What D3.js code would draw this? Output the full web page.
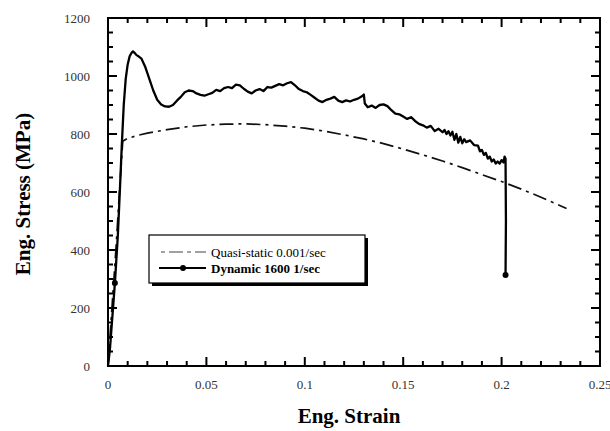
<!DOCTYPE html>
<html lang="en">
<head>
<meta charset="UTF-8"/>
<title>Stress strain</title>
<script src="https://d3js.org/d3.v7.min.js"></script>
<style>
	body{ margin:0; background:#fff; }
	text{ font-family:"Liberation Serif", "Times New Roman", serif; }
</style>
</head>
<body>
<script>
// data
var seriesNames = ["Quasi-static 0.001/sec", "Dynamic 1600 1/sec"];

var quasiStrain = [0, 0.002, 0.004, 0.006, 0.0075, 0.010, 0.015, 0.020, 0.030, 0.040, 0.050, 0.060, 0.070, 0.080, 0.090, 0.100, 0.110, 0.120, 0.130, 0.140, 0.150, 0.160, 0.170, 0.180, 0.190, 0.200, 0.210, 0.220, 0.233];
var quasiStress = [0, 200, 400, 620, 775, 785, 795, 803, 815, 825, 831, 834, 835, 832, 827, 820, 810, 797, 783, 767, 748, 728, 707, 684, 660, 636, 610, 582, 543];

var dynStrain = [0, 0.001, 0.002, 0.0035, 0.005, 0.006, 0.007, 0.008, 0.009, 0.010, 0.011, 0.012, 0.0127, 0.0135, 0.0145, 0.0155, 0.017, 0.019, 0.021, 0.023, 0.025, 0.027, 0.029, 0.031, 0.033, 0.035, 0.037, 0.039, 0.041, 0.043, 0.045, 0.047, 0.049, 0.051, 0.053, 0.055, 0.057, 0.059, 0.061, 0.063, 0.065, 0.067, 0.069, 0.071, 0.073, 0.075, 0.077, 0.079, 0.081, 0.083, 0.085, 0.087, 0.089, 0.091, 0.093, 0.095, 0.097, 0.099, 0.101, 0.103, 0.105, 0.107, 0.109, 0.111, 0.113, 0.115, 0.117, 0.119, 0.121, 0.123, 0.125, 0.127, 0.129, 0.130, 0.1305, 0.132, 0.134, 0.136, 0.138, 0.140, 0.142, 0.144, 0.146, 0.148, 0.150, 0.152, 0.154, 0.156, 0.158, 0.160, 0.162, 0.164, 0.166, 0.168, 0.170, 0.171, 0.172, 0.173, 0.174, 0.175, 0.176, 0.177, 0.178, 0.179, 0.180, 0.181, 0.182, 0.184, 0.186, 0.188, 0.189, 0.190, 0.191, 0.192, 0.193, 0.194, 0.195, 0.196, 0.197, 0.198, 0.199, 0.200, 0.201, 0.2015, 0.202, 0.2022, 0.2020];
var dynStress = [0, 60, 150, 286, 450, 600, 760, 900, 990, 1040, 1068, 1080, 1085, 1080, 1072, 1068, 1060, 1030, 990, 950, 918, 902, 895, 894, 900, 915, 928, 944, 950, 948, 940, 935, 932, 937, 942, 952, 948, 958, 962, 958, 970, 968, 956, 946, 940, 950, 955, 948, 962, 960, 966, 972, 968, 975, 979, 968, 955, 948, 944, 935, 925, 915, 910, 918, 922, 928, 915, 910, 916, 912, 918, 922, 930, 936, 905, 892, 898, 890, 900, 902, 896, 882, 870, 868, 860, 852, 858, 845, 835, 830, 822, 828, 810, 818, 806, 814, 800, 810, 795, 808, 780, 800, 770, 790, 768, 782, 772, 778, 762, 760, 740, 745, 728, 735, 715, 722, 705, 712, 698, 705, 698, 710, 702, 722, 715, 500, 314];

var markStrain = [0.0035, 0.2020];
var markStress = [286, 314];

var xTicks = [0, 0.05, 0.1, 0.15, 0.2, 0.25];
var yTicks = [0, 200, 400, 600, 800, 1000, 1200];

var W = 610, H = 431;
var m = {left:108, top:18, right:10, bottom:65};
var iw = W - m.left - m.right, ih = H - m.top - m.bottom;

var svg = d3.select("body").append("svg").attr("width", W).attr("height", H);
var g = svg.append("g").attr("transform", "translate(" + m.left + "," + m.top + ")");

var x = d3.scaleLinear().domain([0, 0.25]).range([0, iw]);
var y = d3.scaleLinear().domain([0, 1200]).range([ih, 0]);

// tick marks, pointing inward on all four sides
var xMinor = d3.range(0, 26).map(function(i){ return i / 100; });
var yMinor = d3.range(0, 25).map(function(i){ return i * 50; });
var ticks = [];
xMinor.forEach(function(v, i){
	var len = i % 5 === 0 ? 9 : 5;
	ticks.push({x1:x(v), y1:ih, x2:x(v), y2:ih - len});
	ticks.push({x1:x(v), y1:0, x2:x(v), y2:len});
});
yMinor.forEach(function(v, i){
	var len = i % 4 === 0 ? 9 : 5;
	ticks.push({x1:0, y1:y(v), x2:len, y2:y(v)});
	ticks.push({x1:iw, y1:y(v), x2:iw - len, y2:y(v)});
});
g.selectAll("line.tk").data(ticks).enter().append("line")
	.attr("class", "tk")
	.attr("x1", function(d){ return d.x1; }).attr("y1", function(d){ return d.y1; })
	.attr("x2", function(d){ return d.x2; }).attr("y2", function(d){ return d.y2; })
	.attr("stroke", "#000").attr("stroke-width", 2);

// tick labels
g.selectAll("text.xl").data(xTicks).enter().append("text")
	.attr("class", "xl")
	.attr("x", function(d){ return x(d); }).attr("y", ih + 23)
	.attr("text-anchor", "middle").attr("font-size", 13).attr("fill", "#333")
	.text(function(d){ return d3.format("")(d); });
g.selectAll("text.yl").data(yTicks).enter().append("text")
	.attr("class", "yl")
	.attr("x", -18).attr("y", function(d){ return y(d) + 4.5; })
	.attr("text-anchor", "end").attr("font-size", 13).attr("fill", "#333")
	.text(function(d){ return d; });

g.append("rect").attr("width", iw).attr("height", ih)
	.attr("fill", "none").attr("stroke", "#000").attr("stroke-width", 2);

var line = d3.line().x(function(d){ return x(d[0]); }).y(function(d){ return y(d[1]); });

var quasi = quasiStrain.map(function(s, i){ return [s, quasiStress[i]]; });
var dyn = dynStrain.map(function(s, i){ return [s, dynStress[i]]; });

g.append("path").datum(quasi).attr("d", line)
	.attr("fill", "none").attr("stroke", "#111").attr("stroke-width", 1.7)
	.attr("stroke-dasharray", "14,5,3,5");

g.append("path").datum(dyn).attr("d", line)
	.attr("fill", "none").attr("stroke", "#000").attr("stroke-width", 2.3)
	.attr("stroke-linejoin", "round");

g.selectAll("circle.mk").data(markStrain).enter().append("circle")
	.attr("class", "mk")
	.attr("cx", function(d){ return x(d); })
	.attr("cy", function(d, i){ return y(markStress[i]); })
	.attr("r", 3).attr("fill", "#000");

// axis titles
svg.append("text").attr("x", 349).attr("y", 423)
	.attr("text-anchor", "middle").attr("font-size", 21).attr("font-weight", "bold")
	.text("Eng. Strain");
svg.append("text").attr("transform", "translate(30,194) rotate(-90)")
	.attr("text-anchor", "middle").attr("font-size", 21).attr("font-weight", "bold")
	.text("Eng. Stress (MPa)");

// legend
var lg = svg.append("g").attr("transform", "translate(149,235)");
lg.append("rect").attr("x", 3).attr("y", 3).attr("width", 216).attr("height", 48).attr("fill", "#000");
lg.append("rect").attr("width", 216).attr("height", 48).attr("fill", "#fff")
	.attr("stroke", "#000").attr("stroke-width", 1.2);
lg.append("line").attr("x1", 12).attr("x2", 57).attr("y1", 17).attr("y2", 17)
	.attr("stroke", "#444").attr("stroke-width", 1.2).attr("stroke-dasharray", "4,4,14,4");
lg.append("line").attr("x1", 10).attr("x2", 57).attr("y1", 33).attr("y2", 33)
	.attr("stroke", "#000").attr("stroke-width", 2);
lg.append("circle").attr("cx", 34).attr("cy", 33).attr("r", 3).attr("fill", "#000");
lg.selectAll("text.lt").data(seriesNames).enter().append("text")
	.attr("class", "lt")
	.attr("x", 62).attr("y", function(d, i){ return 22 + i * 16; })
	.attr("font-size", 13)
	.attr("font-weight", function(d, i){ return i === 1 ? "bold" : "normal"; })
	.text(function(d){ return d; });
</script>
</body>
</html>
